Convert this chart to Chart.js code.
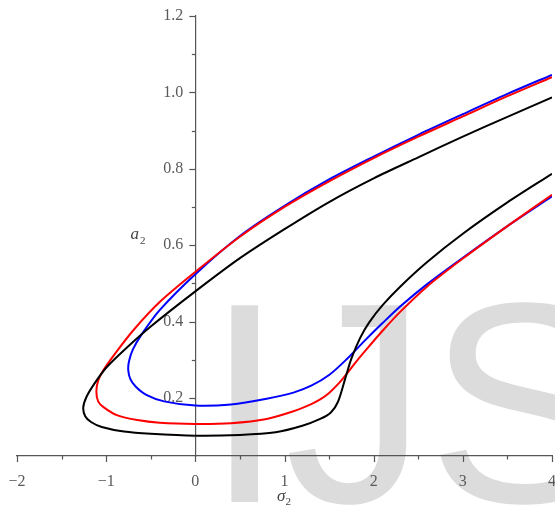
<!DOCTYPE html>
<html><head><meta charset="utf-8">
<script src="https://cdn.jsdelivr.net/npm/chart.js@4/dist/chart.umd.min.js"></script>
<style>html,body{margin:0;padding:0;background:#fff}#wrap{width:555px;height:509px;position:relative}</style>
</head><body><div id="wrap"><canvas id="c" width="555" height="509"></canvas></div>
<script>
// ---- data ----
const xTickValues = [-2, -1, 0, 1, 2, 3, 4];
const yTickValues = [0.2, 0.4, 0.6, 0.8, 1.0, 1.2];

// each curve: upper branch from the right end to the left tip, then lower branch back to the right
const blackX = [4, 3.5, 3, 2.5, 2, 1.5, 1, 0.5, 0, -0.5, -0.8, -1.0, -1.13, -1.22, -1.257, -1.235, -1.17, -1.05, -0.8, -0.5, 0, 0.5, 0.9, 1.2, 1.4, 1.52, 1.6, 1.68, 1.75, 1.85, 1.95, 2.1, 2.3, 2.6, 3.0, 3.5, 4];
const blackY = [0.987, 0.936, 0.884, 0.830, 0.775, 0.713, 0.642, 0.566, 0.479, 0.387, 0.325, 0.279, 0.238, 0.203, 0.175, 0.152, 0.137, 0.124, 0.112, 0.106, 0.101, 0.103, 0.110, 0.127, 0.145, 0.162, 0.190, 0.250, 0.303, 0.358, 0.398, 0.443, 0.492, 0.556, 0.630, 0.712, 0.787];

const redX = [4, 3.5, 3, 2.5, 2, 1.5, 1, 0.5, 0, -0.4, -0.7, -0.9, -1.03, -1.09, -1.11, -1.09, -1.03, -0.88, -0.65, -0.4, 0, 0.4, 0.8, 1.1, 1.3, 1.4, 1.5, 1.6, 1.7, 1.8, 1.9, 2.1, 2.3, 2.6, 3.0, 3.5, 4];
const redY = [1.040, 0.990, 0.937, 0.884, 0.828, 0.767, 0.700, 0.622, 0.530, 0.451, 0.376, 0.316, 0.273, 0.245, 0.217, 0.191, 0.176, 0.155, 0.142, 0.135, 0.132, 0.134, 0.145, 0.165, 0.184, 0.196, 0.213, 0.236, 0.264, 0.294, 0.322, 0.376, 0.426, 0.492, 0.565, 0.650, 0.732];

const blueX = [4, 3.5, 3, 2.5, 2, 1.5, 1, 0.5, 0, -0.4, -0.6, -0.7, -0.745, -0.752, -0.73, -0.67, -0.55, -0.35, 0, 0.4, 0.8, 1.1, 1.3, 1.5, 1.7, 1.9, 2.1, 2.3, 2.6, 3.0, 3.5, 4];
const blueY = [1.046, 0.996, 0.943, 0.889, 0.832, 0.772, 0.703, 0.624, 0.524, 0.430, 0.367, 0.327, 0.295, 0.272, 0.250, 0.230, 0.208, 0.191, 0.180, 0.183, 0.198, 0.214, 0.232, 0.260, 0.302, 0.350, 0.396, 0.440, 0.498, 0.567, 0.650, 0.728];

const xTitleMain = 'σ', xTitleSub = '2';
const yTitleMain = 'a', yTitleSub = '2';
const watermark = 'IJS';

const pts = (xs, ys) => xs.map((x, i) => ({x, y: ys[i]}));
const near = (v, arr) => arr.some(a => Math.abs(a - v) < 1e-6);
const fmtNum = v => (v < 0 ? '\u2212' : '') + Math.abs(v);

const tickFont = {family: '"Liberation Serif", serif', size: 16};
const tickColor = '#5a5a5a';

const decor = {
  id: 'decor',
  beforeDraw(chart) {
    const ctx = chart.ctx;
    ctx.save();
    ctx.fillStyle = '#dcdcdc';
    ctx.font = '286px "Liberation Sans", Arial, sans-serif';
    ctx.textBaseline = 'alphabetic';
    ctx.fillText(watermark, 205, 502);
    ctx.restore();
  },
  afterDraw(chart) {
    const {ctx, scales: {x, y}} = chart;
    ctx.save();
    ctx.strokeStyle = '#555';
    ctx.lineWidth = 1.2;
    const bottom = chart.chartArea.bottom;
    x.ticks.forEach(t => {
      const px = Math.round(x.getPixelForValue(t.value)) + 0.5;
      const L = near(t.value, xTickValues) ? 6 : 3.5;
      ctx.beginPath(); ctx.moveTo(px, bottom); ctx.lineTo(px, bottom + L); ctx.stroke();
    });
    const ax = x.getPixelForValue(0);
    y.ticks.forEach(t => {
      const py = Math.round(y.getPixelForValue(t.value)) + 0.5;
      const L = near(t.value, yTickValues) ? 6 : 3.5;
      ctx.beginPath(); ctx.moveTo(ax - L, py); ctx.lineTo(ax, py); ctx.stroke();
    });
    // axis titles
    ctx.fillStyle = '#444';
    ctx.textBaseline = 'alphabetic';
    const cx = (chart.chartArea.left + chart.chartArea.right) / 2;
    ctx.font = 'italic 17px "Liberation Serif", serif';
    ctx.textAlign = 'right';
    ctx.fillText(xTitleMain, cx + 1, 501);
    ctx.textAlign = 'left';
    ctx.font = '11px "Liberation Serif", serif';
    ctx.fillText(xTitleSub, cx + 1, 505);
    ctx.font = 'italic 17px "Liberation Serif", serif';
    ctx.textAlign = 'right';
    const ty = y.getPixelForValue(0.615);
    ctx.fillText(yTitleMain, 139, ty);
    ctx.textAlign = 'left';
    ctx.font = '11px "Liberation Serif", serif';
    ctx.fillText(yTitleSub, 140, ty + 5);
    ctx.restore();
  }
};

const lineDs = (data, color) => ({
  data, borderColor: color, backgroundColor: color, showLine: true,
  borderWidth: 2, pointRadius: 0, tension: 0.3, fill: false, yAxisID: 'y'
});

const yCommon = {
  type: 'linear', min: 0.048, max: 1.2,
  grid: {display: false, drawOnChartArea: false, drawTicks: false},
  afterFit(s) { s.paddingTop = 0; s.paddingBottom = 0; s.paddingLeft = 0; s.paddingRight = 0; }
};

new Chart(document.getElementById('c'), {
  type: 'scatter',
  data: {datasets: [
    lineDs(pts(blackX, blackY), '#000000'),
    lineDs(pts(redX, redY), '#ff0000'),
    lineDs(pts(blueX, blueY), '#0000ff')
  ]},
  options: {
    responsive: false, animation: false,
    layout: {padding: {left: 17, right: 3, top: 16, bottom: 0}},
    plugins: {legend: {display: false}, tooltip: {enabled: false}},
    scales: {
      x: {
        type: 'linear', position: 'bottom', min: -2, max: 4,
        ticks: {stepSize: 0.5, autoSkip: false, maxRotation: 0, padding: 16,
          font: tickFont, color: tickColor,
          callback: v => near(v, xTickValues) ? fmtNum(v) : ''},
        grid: {drawOnChartArea: false, drawTicks: false},
        border: {color: '#555', width: 1.2},
        afterFit(s) { s.height = 53; s.paddingLeft = 0; s.paddingRight = 0; }
      },
      y: Object.assign({}, yCommon, {
        position: {x: 0},
        ticks: {display: false, stepSize: 0.1, includeBounds: false},
        border: {display: true, color: '#555', width: 1.2}
      }),
      yl: Object.assign({}, yCommon, {
        position: {x: -0.135},
        ticks: {stepSize: 0.2, includeBounds: false, autoSkip: false,
          font: tickFont, color: tickColor,
          callback: v => near(v, yTickValues) ? v.toFixed(1) : ''},
        border: {display: false}
      })
    }
  },
  plugins: [decor]
});
</script>
</body></html>
